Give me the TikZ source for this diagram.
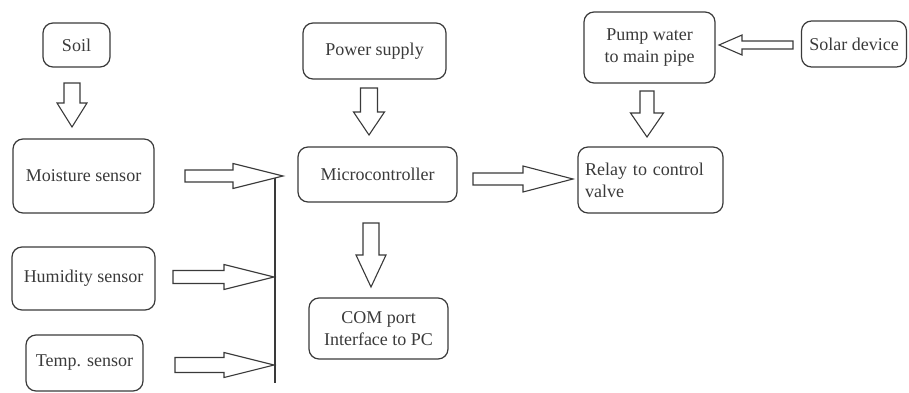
\documentclass[tikz,border=0pt]{standalone}
\usepackage{fontspec}
\setmainfont{Liberation Serif}
\usetikzlibrary{calc}
\definecolor{ink}{HTML}{3A3A3A}
\tikzset{
  box/.style={draw=ink, line width=1.2pt, rounded corners=10pt, inner sep=2pt,
    text=ink, font=\fontsize{18}{22}\selectfont, align=center},
  arrowline/.style={draw=ink, line width=1.1pt, line join=miter, fill=white},
  busline/.style={draw=ink, line width=1.1pt}
}
% #1 start, #2 tip, #3 shaft half width, #4 head half width, #5 head length
\newcommand{\blockarrow}[5]{%
  \draw[arrowline]
    ($(#1)!#3!90:(#2)$) --
    ($($(#2)!#5!(#1)$)!#3!-90:(#1)$) --
    ($($(#2)!#5!(#1)$)!#4!-90:(#1)$) --
    (#2) --
    ($($(#2)!#5!(#1)$)!#4!90:(#1)$) --
    ($($(#2)!#5!(#1)$)!#3!90:(#1)$) --
    ($(#1)!#3!-90:(#2)$) -- cycle;}
\begin{document}
\begin{tikzpicture}[x=1pt,y=-1pt]
\useasboundingbox (0,0) rectangle (909,393);
% boxes
\node[box, minimum width=67pt, minimum height=44pt] (soil) at (76.5,45) {Soil};
\node[box, minimum width=141pt, minimum height=74pt] (moist) at (83.5,176) {Moisture sensor};
\node[box, minimum width=143pt, minimum height=63pt] (humid) at (83.5,278.5) {Humidity sensor};
\node[box, minimum width=117pt, minimum height=56pt] (temp) at (84.5,363) {Temp. sensor};
\node[box, minimum width=143pt, minimum height=56pt] (power) at (374.5,51) {Power supply};
\node[box, minimum width=159pt, minimum height=55pt] (micro) at (377.5,174.5) {Microcontroller};
\node[box, minimum width=139pt, minimum height=61pt] (com) at (378.5,328.5) {COM port\\Interface to PC};
\node[box, minimum width=131pt, minimum height=71pt] (pump) at (649.5,47.5) {Pump water\\to main pipe};
\node[box, minimum width=105pt, minimum height=46pt] (solar) at (854,44) {Solar device};
\node[box, minimum width=145pt, minimum height=66pt, align=left, text width=131pt] (relay) at (650.5,180) {Relay to control\\valve};
% connector end points
\coordinate (soilA) at (72,83);   \coordinate (soilB) at (72,127);
\coordinate (moistA) at (185,176); \coordinate (moistB) at (283,176);
\coordinate (humidA) at (173,277); \coordinate (humidB) at (274,277);
\coordinate (tempA) at (175,365);  \coordinate (tempB) at (274,365);
\coordinate (busT) at (275,177);   \coordinate (busB) at (275,383);
\coordinate (powerA) at (369,88);  \coordinate (powerB) at (369,135);
\coordinate (microA) at (473,179); \coordinate (microB) at (573,179);
\coordinate (comA) at (371,223);   \coordinate (comB) at (371,287);
\coordinate (solarA) at (793,45);  \coordinate (solarB) at (719,45);
\coordinate (pumpA) at (647,91);   \coordinate (pumpB) at (647,137);
% bus line
\draw[busline] (busT) -- (busB);
% block arrows
\blockarrow{soilA}{soilB}{8pt}{15pt}{24pt}
\blockarrow{moistA}{moistB}{6pt}{12.5pt}{50pt}
\blockarrow{humidA}{humidB}{6.5pt}{12.5pt}{50pt}
\blockarrow{tempA}{tempB}{7.5pt}{12.5pt}{50pt}
\blockarrow{powerA}{powerB}{8.5pt}{15.5pt}{23pt}
\blockarrow{microA}{microB}{6pt}{13pt}{50pt}
\blockarrow{comA}{comB}{8pt}{15pt}{32pt}
\blockarrow{solarA}{solarB}{4pt}{10pt}{23pt}
\blockarrow{pumpA}{pumpB}{7pt}{16.5pt}{24pt}
\end{tikzpicture}
\end{document}
